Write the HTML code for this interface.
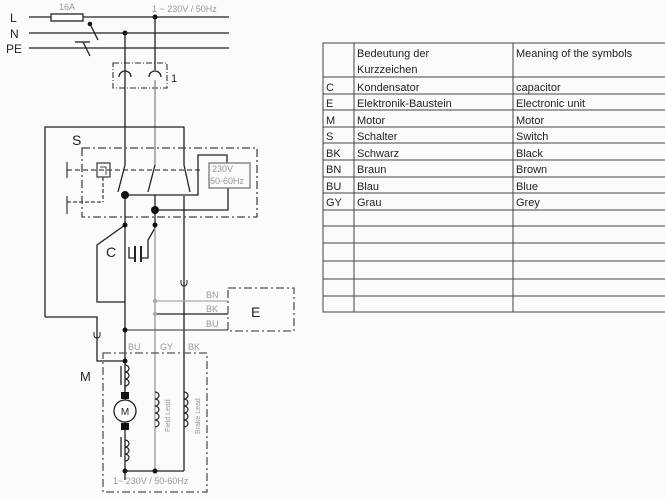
<!DOCTYPE html>
<html><head><meta charset="utf-8"><style>
body{margin:0;background:#fff;}
svg{display:block;font-family:"Liberation Sans",sans-serif;}
</style></head><body>
<svg width="665" height="500" viewBox="0 0 665 500" xmlns="http://www.w3.org/2000/svg">
<rect width="665" height="500" fill="#fbfbfb"/>
<g stroke="#222" stroke-width="1.3" fill="none">
<line x1="29" y1="17" x2="229" y2="17"/>
<line x1="29" y1="33" x2="229" y2="33"/>
<line x1="29" y1="48" x2="229" y2="48"/>
<rect x="51" y="14" width="32" height="7" fill="#fff"/>
<line x1="90" y1="24" x2="98" y2="40"/>
<line x1="75" y1="42" x2="90" y2="42"/>
<line x1="83" y1="42" x2="90" y2="56"/>
<rect x="113" y="63" width="54" height="25" stroke="#555" stroke-dasharray="6,2,1,2"/>
<path d="M119 77 a6 6 0 0 1 12 0"/><path d="M149 77 a6 6 0 0 1 12 0"/>
<line x1="125" y1="33" x2="125" y2="165"/>
<line x1="155" y1="17" x2="155" y2="70"/>
<line x1="155" y1="80" x2="155" y2="165" stroke="#888"/>
<polyline points="45,317 45,127 184,127 184,165"/>
<line x1="184" y1="196" x2="184" y2="471"/>
<rect x="82" y="148" width="175" height="69" stroke="#444" stroke-dasharray="8,3,2,3"/>
<line x1="67" y1="170" x2="200" y2="170" stroke="#444" stroke-dasharray="5,3"/>
<line x1="67" y1="162" x2="67" y2="178" stroke="#444"/>
<line x1="67" y1="196" x2="67" y2="214" stroke="#444"/>
<line x1="67" y1="202" x2="103" y2="202" stroke="#444" stroke-dasharray="4,2"/>
<line x1="103" y1="177" x2="103" y2="202" stroke="#444" stroke-dasharray="4,2"/>
<rect x="97" y="163" width="13" height="14" stroke="#444"/>
<polyline points="100,167 106,167 106,175" stroke="#444" stroke-width="1"/>
<line x1="125" y1="165" x2="118" y2="192" />
<line x1="155" y1="165" x2="148" y2="192" />
<line x1="184" y1="165" x2="190" y2="192" />
<line x1="125" y1="195" x2="125" y2="480"/>
<line x1="155" y1="195" x2="155" y2="228"/>
<polyline points="125,195 198,195 198,155 227,155 227,163"/>
<polyline points="155,210 228,210 228,188"/>
<rect x="209" y="163" width="41" height="25" stroke="#777"/>
<polyline points="125,225 97,245 97,302 125,302"/>
<polyline points="129,247 129,258 135,258"/>
<line x1="135" y1="246" x2="135" y2="262" stroke-width="2"/>
<line x1="141" y1="246" x2="141" y2="262" stroke-width="2"/>
<polyline points="141,258 148,258 148,240 155,228"/>
<polyline points="45,317 97,317 97,361 125,361"/>
<path d="M94 332 v3 a3 3 0 0 0 6 0 v-3" stroke-width="1"/>
<path d="M181 280 v3 a3 3 0 0 0 6 0 v-3" stroke-width="1"/>
<line x1="155" y1="228" x2="155" y2="471" stroke="#999"/>
<line x1="155" y1="301" x2="228" y2="301" stroke="#aaa"/>
<line x1="155" y1="314" x2="228" y2="314"/>
<line x1="125" y1="330" x2="228" y2="330" stroke="#555"/>
<rect x="228" y="288" width="66" height="43" stroke="#555" stroke-dasharray="8,3,2,3"/>
<rect x="103" y="353" width="104" height="139" stroke="#555" stroke-dasharray="8,3,2,3"/>
<path d="M125 365 a4 3.5 0 0 1 0 7 a4 3.5 0 0 1 0 7 a4 3.5 0 0 1 0 7 l0 4" stroke-width="1.2"/>
<path d="M125 440 a4 3.5 0 0 1 0 7 a4 3.5 0 0 1 0 7 a4 3.5 0 0 1 0 7" stroke-width="1.2"/>
<line x1="121" y1="366" x2="121" y2="385"/>
<line x1="121" y1="437" x2="121" y2="457"/>
<path d="M155 392 a4 3.5 0 0 1 0 7 a4 3.5 0 0 1 0 7 a4 3.5 0 0 1 0 7 a4 3.5 0 0 1 0 7 a4 3.5 0 0 1 0 7" stroke-width="1.2"/>
<path d="M184 392 a4 3.5 0 0 1 0 7 a4 3.5 0 0 1 0 7 a4 3.5 0 0 1 0 7 a4 3.5 0 0 1 0 7 a4 3.5 0 0 1 0 7" stroke-width="1.2"/>
<circle cx="125" cy="411" r="11" fill="#fff"/>
<line x1="125" y1="471" x2="184" y2="471"/>
</g>
<g fill="#111">
<circle cx="155" cy="17" r="2.5"/><circle cx="125" cy="33" r="2.5"/><circle cx="90" cy="24" r="2.3"/>
<circle cx="125" cy="195" r="4"/><circle cx="155" cy="210" r="4"/>
<circle cx="125" cy="225" r="2.5"/><circle cx="155" cy="225" r="2.5"/>
<circle cx="125" cy="330" r="2.5"/><circle cx="125" cy="361" r="2.5"/>
<circle cx="125" cy="471" r="2.5"/><circle cx="155" cy="471" r="2.5"/>
<rect x="121" y="392" width="8" height="7"/><rect x="121" y="423" width="8" height="7"/>
</g>
<circle cx="155" cy="301" r="2.2" fill="#aaa"/><circle cx="155" cy="314" r="2.2" fill="#aaa"/>
<g font-size="12" fill="#222">
<text x="10" y="22">L</text><text x="10" y="38">N</text><text x="6" y="53">PE</text>
<text x="171" y="82" font-size="11">1</text>
<text x="72" y="145" font-size="14">S</text>
<text x="106" y="257" font-size="14">C</text>
<text x="251" y="317" font-size="14">E</text>
<text x="80" y="381" font-size="13">M</text>
<text x="125" y="415" font-size="10" text-anchor="middle">M</text>
</g>
<g font-size="9" fill="#999">
<text x="59" y="10">16A</text>
<text x="152" y="12">1 ~ 230V / 50Hz</text>
<text x="212" y="172">230V</text><text x="210" y="184">50-60Hz</text>
<text x="206" y="298">BN</text><text x="206" y="312">BK</text><text x="206" y="327">BU</text>
<text x="128" y="350">BU</text><text x="160" y="350">GY</text><text x="188" y="350">BK</text>
<text x="113" y="484">1~ 230V / 50-60Hz</text>
<text transform="translate(170,432) rotate(-90)" font-size="7">Field Lead</text>
<text transform="translate(200,434) rotate(-90)" font-size="7">Brake Lead</text>
</g>
<g stroke="#444" stroke-width="1" fill="none">
<rect x="323" y="43" width="345" height="269"/>
<line x1="354" y1="43" x2="354" y2="312"/><line x1="513" y1="43" x2="513" y2="312"/>
<line x1="323" y1="77" x2="665" y2="77"/><line x1="323" y1="94" x2="665" y2="94"/>
<line x1="323" y1="110" x2="665" y2="110"/><line x1="323" y1="127" x2="665" y2="127"/>
<line x1="323" y1="143" x2="665" y2="143"/><line x1="323" y1="160" x2="665" y2="160"/>
<line x1="323" y1="177" x2="665" y2="177"/><line x1="323" y1="193" x2="665" y2="193"/>
<line x1="323" y1="210" x2="665" y2="210"/><line x1="323" y1="226" x2="665" y2="226"/>
<line x1="323" y1="243" x2="665" y2="243"/><line x1="323" y1="261" x2="665" y2="261"/>
<line x1="323" y1="279" x2="665" y2="279"/><line x1="323" y1="296" x2="665" y2="296"/>
</g>
<g font-size="11" fill="#222">
<text x="357" y="57">Bedeutung der</text><text x="357" y="73">Kurzzeichen</text>
<text x="516" y="57">Meaning of the symbols</text>
<text x="326" y="91">C</text><text x="357" y="91">Kondensator</text><text x="516" y="91">capacitor</text>
<text x="326" y="107">E</text><text x="357" y="107">Elektronik-Baustein</text><text x="516" y="107">Electronic unit</text>
<text x="326" y="124">M</text><text x="357" y="124">Motor</text><text x="516" y="124">Motor</text>
<text x="326" y="140">S</text><text x="357" y="140">Schalter</text><text x="516" y="140">Switch</text>
<text x="326" y="157">BK</text><text x="357" y="157">Schwarz</text><text x="516" y="157">Black</text>
<text x="326" y="173">BN</text><text x="357" y="173">Braun</text><text x="516" y="173">Brown</text>
<text x="326" y="190">BU</text><text x="357" y="190">Blau</text><text x="516" y="190">Blue</text>
<text x="326" y="206">GY</text><text x="357" y="206">Grau</text><text x="516" y="206">Grey</text>
</g>
</svg>
</body></html>
